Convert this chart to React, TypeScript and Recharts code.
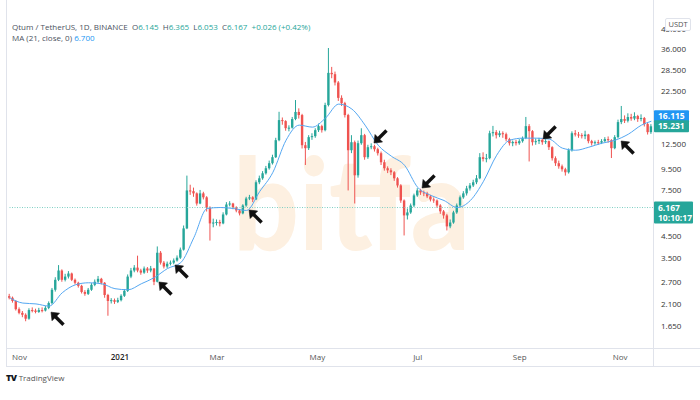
import { ComposedChart, Bar, Line, XAxis, YAxis, ReferenceLine, ReferenceDot } from "recharts";

const GREEN = "#26a69a";
const RED = "#ef5350";
const BLUE = "#2196f3";
const GRID = "#e0e3eb";
const FONT = "'Open Sans', sans-serif";

// 2-day candles from late Oct 2020 to late Nov 2021
const firstOpen = 2.3;
const closes = [
  2.26, 2.18, 1.99, 1.91, 1.87, 1.79, 1.97, 1.96, 1.93, 1.97,
  1.96, 2.02, 2.13, 2.47, 2.76, 3.06, 2.76, 2.86, 2.96, 2.76,
  2.67, 2.58, 2.41, 2.36, 2.47, 2.61, 2.7, 2.79, 2.67, 2.33,
  2.18, 2.2, 2.16, 2.2, 2.31, 2.44, 2.86, 3.06, 3.16, 3.06,
  2.99, 3.13, 3.06, 3.13, 2.7, 3.73, 3.34, 3.2, 3.3, 3.34,
  3.42, 3.53, 3.86, 4.89, 7.46, 7.4, 7.22, 6.45, 7.22, 6.91,
  6.17, 5.17, 5.22, 5.25, 5.17, 5.71, 6.38, 6.45, 6.17, 5.97,
  5.78, 6.31, 6.82, 6.91, 6.75, 8.17, 8.54, 9.03, 9.55, 10.1,
  10.8, 13.05, 16.32, 16.14, 14.92, 15.0, 16.51, 17.87, 17.26, 12.34,
  11.94, 13.5, 13.65, 14.59, 15.26, 14.59, 19.29, 27.6, 27.2, 24.8,
  20.9, 19.7, 17.26, 11.67, 12.76, 8.83, 12.62, 13.8, 10.8, 12.07,
  12.2, 11.8, 11.29, 10.21, 9.55, 9.33, 9.13, 8.54, 7.89, 6.67,
  5.65, 5.84, 6.31, 7.06, 7.46, 7.3, 7.22, 6.98, 6.75, 6.67,
  6.31, 5.91, 5.65, 5.0, 5.22, 5.84, 6.31, 6.91, 7.22, 7.63,
  7.89, 8.17, 8.54, 10.8, 10.6, 10.68, 14.1, 14.27, 13.8, 14.1,
  13.95, 13.2, 12.62, 12.8, 12.62, 12.91, 13.35, 15.26, 14.43, 12.76,
  12.91, 13.1, 12.76, 12.91, 12.07, 10.68, 10.1, 9.76, 9.44, 9.13,
  11.67, 14.1, 13.9, 13.8, 13.65, 13.9, 12.91, 12.62, 12.76, 12.7,
  12.91, 13.2, 13.05, 11.94, 13.5, 15.96, 16.51, 16.2, 16.88, 16.6,
  17.07, 16.51, 16.7, 15.61, 14.27, 15.23,
];
const highs = [
  2.36, 2.29, 2.2, 2.03, 1.95, 1.9, 2.01, 2.03, 2.0, 2.02,
  2.03, 2.06, 2.17, 2.52, 2.84, 3.25, 3.1, 2.95, 3.04, 2.99,
  2.8, 2.7, 2.61, 2.46, 2.52, 2.66, 2.77, 2.88, 2.82, 2.69,
  2.36, 2.25, 2.24, 2.26, 2.35, 2.49, 2.93, 3.15, 3.25, 3.61,
  3.12, 3.2, 3.18, 3.22, 3.15, 4.0, 3.8, 3.4, 3.38, 3.42,
  3.5, 3.62, 3.95, 5.05, 8.8, 7.95, 7.7, 7.3, 7.5, 7.35,
  7.0, 6.25, 5.45, 5.4, 5.38, 5.85, 6.55, 6.62, 6.5, 6.25,
  6.05, 6.4, 6.95, 7.1, 7.0, 8.35, 8.8, 9.25, 9.8, 10.4,
  11.1, 13.4, 17.9, 16.8, 16.3, 15.4, 16.9, 20.4, 18.6, 17.5,
  12.8, 13.8, 14.1, 14.9, 15.7, 15.5, 19.8, 36.4, 29.5, 28.0,
  25.2, 21.5, 20.0, 17.5, 13.8, 13.0, 13.0, 14.9, 14.0, 12.4,
  12.6, 12.4, 12.0, 11.5, 10.5, 9.75, 9.55, 9.25, 8.65, 8.0,
  6.75, 6.1, 6.45, 7.2, 7.65, 7.6, 7.45, 7.35, 7.1, 6.9,
  6.75, 6.4, 6.0, 5.75, 5.4, 5.95, 6.45, 7.05, 7.4, 7.85,
  8.1, 8.4, 8.85, 11.3, 11.4, 11.2, 14.5, 15.3, 14.6, 14.5,
  14.4, 14.2, 13.4, 13.0, 13.1, 13.2, 13.6, 16.9, 15.6, 14.6,
  13.3, 13.4, 13.3, 13.2, 13.0, 12.2, 10.9, 10.4, 9.95, 9.6,
  11.9, 14.4, 14.6, 14.3, 14.1, 14.5, 14.0, 13.1, 13.0, 13.1,
  13.2, 13.5, 13.6, 13.2, 13.8, 16.4, 19.1, 17.2, 17.6, 17.5,
  17.8, 17.3, 17.4, 16.9, 15.8, 15.6,
];
const lows = [
  2.22, 2.14, 1.96, 1.88, 1.82, 1.74, 1.77, 1.92, 1.9, 1.91,
  1.92, 1.94, 1.99, 2.1, 2.42, 2.72, 2.7, 2.71, 2.8, 2.72,
  2.62, 2.53, 2.37, 2.31, 2.33, 2.44, 2.57, 2.66, 2.62, 2.26,
  1.85, 2.12, 2.11, 2.13, 2.17, 2.28, 2.41, 2.81, 3.0, 3.0,
  2.92, 2.95, 2.98, 3.0, 2.6, 2.68, 3.27, 3.13, 3.14, 3.24,
  3.28, 3.38, 3.48, 3.82, 4.85, 7.1, 6.95, 6.3, 6.4, 6.75,
  5.9, 4.27, 4.95, 5.05, 5.0, 5.12, 5.65, 6.25, 6.05, 5.85,
  5.65, 5.72, 6.22, 6.7, 6.55, 6.7, 8.0, 8.4, 8.9, 9.4,
  9.95, 10.7, 12.9, 15.5, 14.5, 14.4, 14.85, 16.3, 16.6, 11.9,
  9.9, 11.7, 13.1, 13.4, 14.3, 14.2, 14.4, 19.0, 26.0, 24.0,
  20.2, 19.1, 16.8, 7.46, 11.3, 6.45, 8.6, 12.4, 10.5, 10.6,
  11.8, 11.5, 11.0, 9.9, 9.3, 9.05, 8.85, 8.3, 7.7, 6.5,
  4.52, 5.4, 5.75, 6.2, 6.95, 7.1, 7.0, 6.85, 6.6, 6.5,
  6.15, 5.75, 5.45, 4.78, 4.9, 5.15, 5.75, 6.2, 6.8, 7.05,
  7.45, 7.75, 8.0, 8.45, 10.3, 10.2, 10.55, 13.6, 13.3, 13.5,
  13.4, 12.9, 12.3, 12.2, 12.3, 12.4, 12.7, 13.2, 10.3, 12.3,
  12.4, 12.5, 12.4, 12.5, 11.7, 10.4, 9.8, 9.5, 9.2, 8.8,
  9.0, 11.5, 13.6, 13.4, 13.3, 13.2, 12.6, 12.3, 12.4, 12.4,
  12.5, 12.8, 12.7, 10.7, 11.8, 13.3, 15.6, 15.8, 15.9, 16.2,
  16.3, 16.0, 16.1, 15.2, 13.9, 14.0,
];

// MA (21, close): [candle index, value]
const maPoints: [number, number][] = [
  [0, 2.26], [4, 2.13], [8, 2.11], [12, 2.06], [16, 2.39], [20, 2.61], [24, 2.67], [28, 2.64],
  [32, 2.5], [36, 2.47], [40, 2.64], [44, 2.83], [48, 3.13], [52, 3.34], [56, 4.42], [60, 6.1],
  [64, 6.17], [68, 6.1], [72, 5.97], [76, 7.38], [80, 9.13], [84, 13.05], [88, 15.43], [92, 15.09],
  [96, 16.7], [100, 19.5], [104, 18.45], [108, 15.43], [112, 12.34], [116, 10.92], [120, 9.87], [124, 7.72],
  [128, 7.06], [132, 6.67], [136, 6.17], [140, 6.67], [144, 8.26], [148, 11.04], [152, 13.05], [156, 13.35],
  [160, 13.35], [164, 13.2], [168, 11.94], [172, 11.67], [176, 12.07], [180, 12.62], [184, 13.05], [188, 13.95],
  [192, 15.43], [195, 16.12],
];

// days since Oct 25 2020
const monthTicks = [7, 68, 127, 188, 249, 311, 372];
const monthLabels = ["Nov", "2021", "Mar", "May", "Jul", "Sep", "Nov"];
const priceTicks = [1.65, 2.1, 2.7, 3.5, 4.5, 7.5, 9.5, 12.5, 22.5, 28.5, 36, 45];

const arrows = [
  { day: 30.4, price: 1.78, dir: "ul" },
  { day: 96, price: 2.49, dir: "ul" },
  { day: 105.8, price: 3.01, dir: "ul" },
  { day: 150.8, price: 5.55, dir: "ul" },
  { day: 226.7, price: 13.67, dir: "dl" },
  { day: 255.9, price: 8.29, dir: "dl" },
  { day: 329.5, price: 14.3, dir: "dl" },
  { day: 376.9, price: 11.96, dir: "ul" },
];

const lastPrice = 6.167;
const maLast = 16.115;
const closeLast = 15.231;

const candles: any[] = closes.map((close, i) => ({
  day: 2 * i + 1,
  open: i === 0 ? firstOpen : closes[i - 1],
  close,
  high: highs[i],
  low: lows[i],
  range: [lows[i], highs[i]],
}));
maPoints.forEach(([i, v]) => {
  candles[i].ma = v;
});

function Candle(props: any) {
  const { x, y, width, height, payload } = props;
  if (payload == null) return null;
  const top = Math.min(y, y + height);
  const h = Math.abs(height);
  const lh = Math.log(payload.high);
  const ll = Math.log(payload.low);
  const toY = (v: number) => top + ((lh - Math.log(v)) / (lh - ll || 1)) * h;
  const up = payload.close >= payload.open;
  const color = up ? GREEN : RED;
  const cx = x + width / 2;
  const b1 = toY(Math.max(payload.open, payload.close));
  const b2 = toY(Math.min(payload.open, payload.close));
  return (
    <g>
      <line x1={cx} x2={cx} y1={top} y2={top + h} stroke={color} strokeWidth={1} />
      <rect x={x} y={b1} width={width} height={Math.max(b2 - b1, 1)} fill={color} />
    </g>
  );
}

function Arrow({ cx, cy, dir }: any) {
  const s = dir === "ul" ? 1 : -1;
  return (
    <g fill="#111" stroke="#111">
      <polygon points={`${cx - 7},${cy - 7 * s} ${cx + 1.5},${cy - 6 * s} ${cx - 6},${cy + 1.5 * s}`} strokeWidth={0.6} strokeLinejoin="round" />
      <line x1={cx - 3} y1={cy - 3 * s} x2={cx + 5.5} y2={cy + 5.5 * s} strokeWidth={3.4} />
    </g>
  );
}

function Badge({ cx, cy, lines, color, shift = 0 }: any) {
  const h = lines.length * 10 + 2;
  const top = cy + shift - (lines.length === 1 ? h / 2 : 6);
  return (
    <g>
      <rect x={cx + 1} y={top} width={lines.length > 1 ? 39 : 35} height={h} fill={color} rx={1} />
      {lines.map((t: string, k: number) => (
        <text key={k} x={cx + 5} y={top + 9 + k * 10} fill="#fff" fontSize={8.5} fontWeight={700} fontFamily={FONT}>
          {t}
        </text>
      ))}
    </g>
  );
}

function MonthTick({ x, y, payload }: any) {
  const idx = monthTicks.indexOf(payload.value);
  const label = monthLabels[idx] ?? "";
  const isYear = label === "2021";
  return (
    <text x={x} y={y + 4} textAnchor="middle" fontSize={8} fontFamily={FONT} fill={isYear ? "#222" : "#555"} fontWeight={isYear ? 600 : 400}>
      {label}
    </text>
  );
}

const line = (style: any) => <div style={{ position: "absolute", background: GRID, ...style }} />;

export default function App() {
  return (
    <div style={{ position: "absolute", left: 0, top: 0, width: 700, height: 400, background: "#fff", overflow: "hidden", fontFamily: FONT }}>
      <svg width={700} height={400} style={{ position: "absolute", left: 0, top: 0 }}>
        <text x={233} y={250} fontSize={128} fontWeight={900} fontFamily="Lato, sans-serif" fill="#fdf0e1" textLength={237} lengthAdjust="spacingAndGlyphs">
          bitfa
        </text>
      </svg>
      {line({ left: 6, top: 0, width: 1, height: 366 })}
      {line({ left: 653, top: 0, width: 1, height: 366 })}
      {line({ left: 6, top: 348, width: 694, height: 1 })}
      {line({ left: 6, top: 366, width: 694, height: 1 })}
      <div style={{ position: "absolute", left: 0, top: 0 }}>
        <ComposedChart width={700} height={400} data={candles} margin={{ top: 14, right: 0, bottom: 34, left: 8 }}>
          <XAxis
            dataKey="day"
            type="number"
            domain={[0, 392]}
            ticks={monthTicks}
            tick={<MonthTick />}
            axisLine={false}
            tickLine={false}
            height={18}
            allowDataOverflow
          />
          <YAxis
            orientation="right"
            scale="log"
            domain={[1.2919, 53.15]}
            ticks={priceTicks}
            tickFormatter={(v: number) => v.toFixed(3)}
            tick={{ fontSize: 8, fill: "#333", fontFamily: FONT }}
            axisLine={false}
            tickLine={false}
            width={47}
            allowDataOverflow
          />
          <ReferenceLine y={lastPrice} stroke="#7fcfc5" strokeWidth={1} strokeDasharray="1 1.5" />
          <Bar dataKey="range" barSize={2.4} shape={<Candle />} isAnimationActive={false} />
          <Line dataKey="ma" type="monotone" stroke="#55a8f2" strokeWidth={1} dot={false} connectNulls isAnimationActive={false} />
          {arrows.map((a, k) => (
            <ReferenceDot key={k} x={a.day} y={a.price} r={0} ifOverflow="visible" shape={(p: any) => <Arrow cx={p.cx} cy={p.cy} dir={a.dir} />} />
          ))}
          <ReferenceDot x={392} y={maLast} r={0} ifOverflow="visible" shape={(p: any) => <Badge cx={p.cx} cy={p.cy} lines={[maLast.toFixed(3)]} color={BLUE} shift={-5} />} />
          <ReferenceDot x={392} y={closeLast} r={0} ifOverflow="visible" shape={(p: any) => <Badge cx={p.cx} cy={p.cy} lines={[closeLast.toFixed(3)]} color={GREEN} />} />
          <ReferenceDot x={392} y={lastPrice} r={0} ifOverflow="visible" shape={(p: any) => <Badge cx={p.cx} cy={p.cy} lines={[lastPrice.toFixed(3), "10:10:17"]} color={GREEN} />} />
        </ComposedChart>
      </div>
      <div style={{ position: "absolute", left: 665, top: 18, width: 24, height: 11, border: `1px solid ${GRID}`, borderRadius: 2, background: "#fff", fontSize: 7.5, lineHeight: "11px", textAlign: "center", color: "#555" }}>
        USDT
      </div>
      <div style={{ position: "absolute", left: 12, top: 21, fontSize: 8, lineHeight: "11px", color: "#4c525e", whiteSpace: "pre" }}>
        <div>
          {"Qtum / TetherUS, 1D, BINANCE  O"}
          <span style={{ color: GREEN }}>6.145</span>
          {"  H"}
          <span style={{ color: GREEN }}>6.365</span>
          {"  L"}
          <span style={{ color: GREEN }}>6.053</span>
          {"  C"}
          <span style={{ color: GREEN }}>6.167</span>
          <span style={{ color: GREEN }}>{"  +0.026 (+0.42%)"}</span>
        </div>
        <div>
          {"MA (21, close, 0) "}
          <span style={{ color: BLUE }}>6.700</span>
        </div>
      </div>
      <div style={{ position: "absolute", left: 6, top: 372, fontSize: 8, lineHeight: "12px", color: "#555", whiteSpace: "pre" }}>
        <span style={{ fontWeight: 900, color: "#131722", fontSize: 9, letterSpacing: -0.5 }}>TV</span>
        {" TradingView"}
      </div>
    </div>
  );
}
